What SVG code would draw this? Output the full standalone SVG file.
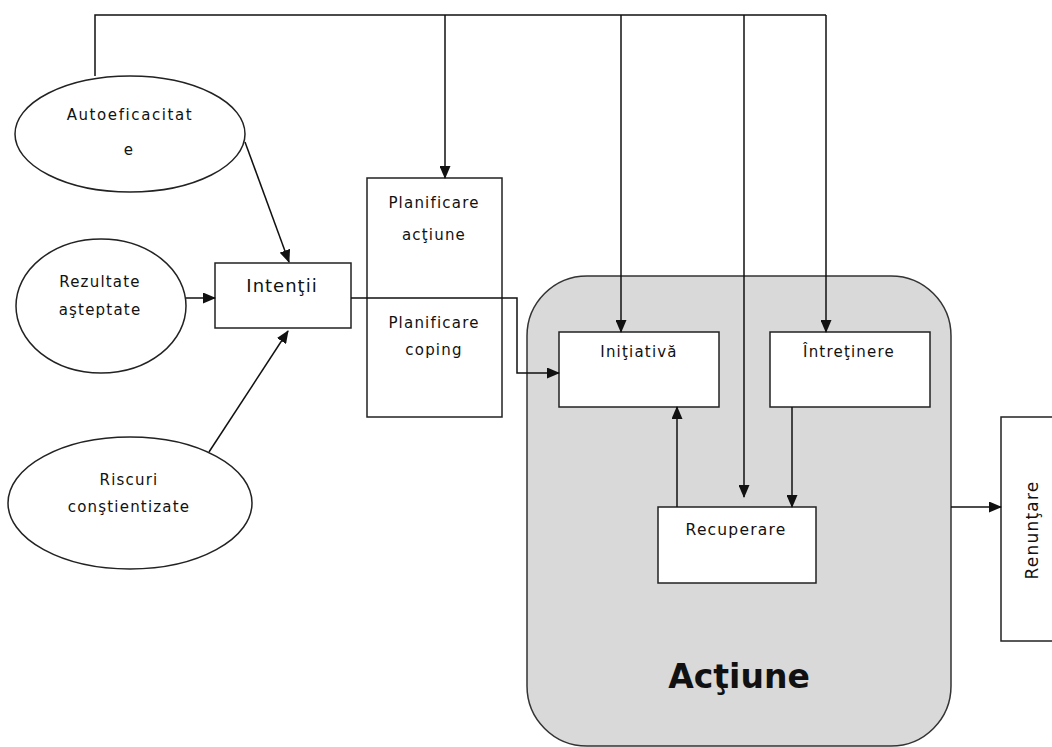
<svg xmlns="http://www.w3.org/2000/svg" width="1052" height="747" viewBox="0 0 1052 747">
<defs>
<style>
.shape{fill:#fff;stroke:#222;stroke-width:1.5}
.line{fill:none;stroke:#111;stroke-width:1.5}
.t{font-family:"DejaVu Sans","Liberation Sans",sans-serif;font-size:15px;fill:#111;text-anchor:middle;letter-spacing:1.2px}
.big{font-family:"DejaVu Sans","Liberation Sans",sans-serif;font-size:33px;font-weight:bold;fill:#111;text-anchor:middle}
</style>
<marker id="arr" markerUnits="userSpaceOnUse" markerWidth="13" markerHeight="11" refX="12" refY="5.5" orient="auto">
<path d="M0,0 L13,5.5 L0,11 Z" fill="#111"/>
</marker>
</defs>
<rect width="1052" height="747" fill="#fff"/>
<g id="actiune">
<rect x="527" y="276" width="424" height="470" rx="60" ry="60" fill="#d9d9d9" stroke="#333" stroke-width="1.5"/>
<text class="big" x="739" y="688">Acţiune</text>
</g>
<g id="autoeficacitate">
<ellipse class="shape" cx="130" cy="134" rx="115" ry="58"/>
<text class="t" x="130" y="120" style="letter-spacing:1.6px">Autoeficacitat</text>
<text class="t" x="129" y="155">e</text>
</g>
<g id="rezultate">
<ellipse class="shape" cx="101" cy="306" rx="85" ry="67"/>
<text class="t" x="100" y="287">Rezultate</text>
<text class="t" x="100" y="315">aşteptate</text>
</g>
<g id="riscuri">
<ellipse class="shape" cx="130" cy="503" rx="122" ry="66"/>
<text class="t" x="129" y="485">Riscuri</text>
<text class="t" x="129" y="512">conştientizate</text>
</g>
<g id="intentii">
<rect class="shape" x="215" y="263" width="136" height="65"/>
<text class="t" x="282" y="292" style="font-size:18px;letter-spacing:1px">Intenţii</text>
</g>
<g id="planificare">
<rect class="shape" x="367" y="178" width="135" height="239"/>
<text class="t" x="434" y="208">Planificare</text>
<text class="t" x="434" y="240">acţiune</text>
<text class="t" x="434" y="328">Planificare</text>
<text class="t" x="434" y="355">coping</text>
</g>
<g id="initiativa">
<rect class="shape" x="559" y="332" width="160" height="75"/>
<text class="t" x="639" y="357">Iniţiativă</text>
</g>
<g id="intretinere">
<rect class="shape" x="770" y="332" width="160" height="75"/>
<text class="t" x="849" y="357">Întreţinere</text>
</g>
<g id="recuperare">
<rect class="shape" x="658" y="507" width="158" height="76"/>
<text class="t" x="736" y="535" style="font-size:15.5px">Recuperare</text>
</g>
<g id="renuntare">
<rect class="shape" x="1001" y="417" width="60" height="224"/>
<text class="t" x="0" y="0" transform="translate(1038,530) rotate(-90)" style="font-size:17px">Renunţare</text>
</g>
<g id="connectors">
<polyline class="line" points="95,76 95,15 826,15"/>
<line class="line" x1="445" y1="15" x2="445" y2="178" marker-end="url(#arr)"/>
<line class="line" x1="621" y1="15" x2="621" y2="332" marker-end="url(#arr)"/>
<line class="line" x1="744" y1="15" x2="744" y2="497" marker-end="url(#arr)"/>
<line class="line" x1="826" y1="15" x2="826" y2="332" marker-end="url(#arr)"/>
<line class="line" x1="245" y1="142" x2="289" y2="262" marker-end="url(#arr)"/>
<line class="line" x1="186" y1="298" x2="215" y2="298" marker-end="url(#arr)"/>
<line class="line" x1="209" y1="452" x2="288" y2="331" marker-end="url(#arr)"/>
<polyline class="line" points="351,298 517,298 517,373 559,373" marker-end="url(#arr)"/>
<line class="line" x1="677" y1="507" x2="677" y2="407" marker-end="url(#arr)"/>
<line class="line" x1="792" y1="407" x2="792" y2="507" marker-end="url(#arr)"/>
<line class="line" x1="951" y1="507" x2="1001" y2="507" marker-end="url(#arr)"/>
</g>
</svg>
